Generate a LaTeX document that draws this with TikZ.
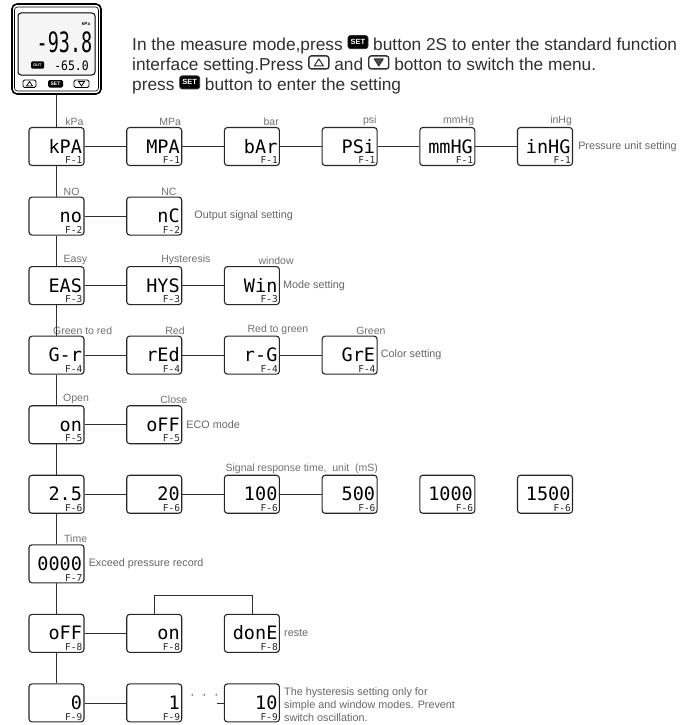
\documentclass[tikz,border=0pt]{standalone}
\usepackage{fontspec}
\setmainfont{Liberation Sans}
\newfontfamily\lcdfont{DejaVu Sans Mono}
\usetikzlibrary{positioning}
\definecolor{boxline}{HTML}{262626}
\definecolor{labelgray}{HTML}{707070}
\definecolor{notegray}{HTML}{666666}
\definecolor{textdark}{HTML}{303030}
\tikzset{
        % LCD screens of the menu
        lcd_box/.style={draw=boxline, line width=1.1pt, rounded corners=3pt, fill=white,
            minimum width=55pt, minimum height=38pt, text width=51pt, align=right,
            inner xsep=2pt, inner ysep=0pt, text height=13pt, text depth=0pt,
            font=\lcdfont\fontsize{18.5}{18.5}\selectfont},
        % Function code in the corner of a screen
        code_text/.style={font=\lcdfont\fontsize{9.5}{9.5}\selectfont, inner sep=2pt, text=boxline},
        fcode/.style={label={[code_text, anchor=south east]south east:F-#1}},
        % Names of the options above the screens
        opt_label/.style={font=\fontsize{10.5}{11}\selectfont, text=labelgray, inner sep=1pt},
        unit_above/.style={label={[opt_label, anchor=south east]north east:#1}},
        opt_above/.style 2 args={label={[opt_label, anchor=south west, xshift=#2]north:#1}},
        % Notes beside the rows
        row_note/.style={font=\fontsize{10.8}{13}\selectfont, text=notegray, anchor=west, align=left, inner sep=0pt},
        link/.style={draw=textdark, line width=0.8pt}
}
\newcommand{\btnset}{\tikz[baseline=-2pt]{\draw[fill=black, line width=0.8pt, rounded corners=2.5pt] (0pt,0pt) rectangle (20pt,13pt);
    \node[anchor=center, text=white, font=\bfseries\fontsize{7.5}{7.5}\selectfont, inner sep=0pt] at (10pt,6.5pt) {SET};}}
\newcommand{\btnup}{\tikz[baseline=-2pt]{\draw[line width=1.4pt, rounded corners=2.5pt] (0pt,0pt) rectangle (20pt,13pt);
    \draw[line width=1pt, fill=white, line join=round] (5.5pt,3pt) -- (14.5pt,3pt) -- (10pt,10pt) -- cycle;}}
\newcommand{\btndown}{\tikz[baseline=-2pt]{\draw[line width=1.4pt, rounded corners=2.5pt] (0pt,0pt) rectangle (20pt,13pt);
    \draw[line width=1pt, fill=black!70, line join=round] (5.5pt,10pt) -- (14.5pt,10pt) -- (10pt,3pt) -- cycle;}}

\begin{document}
\begin{tikzpicture}[x=1pt, y=1pt, node distance=30.45pt and 41.6pt]
    \useasboundingbox (0,0) rectangle (689,-725);

    % Controller front
    \node[draw=black, line width=1.6pt, rounded corners=5pt, minimum width=89pt, minimum height=90pt, inner sep=0pt] (device) at (56.5,-49) {};
    \draw[line width=0.6pt, rounded corners=3pt] (14.5,-7) rectangle (98.5,-91);
    \node[draw=black, line width=1pt, rounded corners=3pt, fill=black!4, minimum width=77pt, minimum height=62pt, inner sep=0pt] (screen) at (56.5,-44) {};
    \node[font=\bfseries\fontsize{4.5}{5}\selectfont, inner sep=0pt] (unit_mark) at (86,-24) {kPa};
    \node[font=\lcdfont\fontsize{28}{28}\selectfont, xscale=0.66, transform shape, inner sep=0pt] (big_value) at (64.5,-42) {-93.8};
    \node[fill=black, rounded corners=1pt, text=white, font=\bfseries\fontsize{3.8}{4}\selectfont, minimum width=13pt, minimum height=7pt, inner sep=0pt] (out_mark) at (37.5,-65) {OUT};
    \node[font=\lcdfont\fontsize{13}{13}\selectfont, xscale=0.88, transform shape, inner sep=0pt] (small_value) at (71.5,-66) {-65.0};
    % keys
    \draw[line width=0.9pt, rounded corners=1.5pt] (23,-80) rectangle (36,-87.5);
    \draw[line width=0.7pt] (26.5,-86) -- (32.5,-86) -- (29.5,-81.5) -- cycle;
    \node[fill=black, rounded corners=1.5pt, text=white, font=\bfseries\fontsize{5}{5}\selectfont, minimum width=15pt, minimum height=7.5pt, inner sep=0pt] (set_key) at (55.5,-83.75) {SET};
    \draw[line width=0.9pt, rounded corners=1.5pt] (74,-80) rectangle (89,-87.5);
    \draw[line width=0.7pt] (78.5,-81.5) -- (84.5,-81.5) -- (81.5,-86) -- cycle;

    \node[anchor=north west, align=left, inner sep=0pt, text=textdark, font=\fontsize{17.3}{17}\selectfont] (intro) at (132,-35)
        {In the measure mode,press \btnset\ button 2S to enter the standard function\\
         interface setting.Press \btnup\ and \btndown\ botton to switch the menu.\\
         press \btnset\ button to enter the setting};

    % F-1 pressure unit
    \node[lcd_box, fcode=1, unit_above=kPa] (kpa) at (56.5,-146.5) {kPA};
    \node[lcd_box, fcode=1, unit_above=MPa, right=of kpa] (mpa) {MPA};
    \node[lcd_box, fcode=1, unit_above=bar, right=of mpa] (bar) {bAr};
    \node[lcd_box, fcode=1, unit_above=psi, right=of bar] (psi) {PSi};
    \node[lcd_box, fcode=1, unit_above=mmHg, right=of psi] (mmhg) {mmHG};
    \node[lcd_box, fcode=1, unit_above=inHg, right=of mmhg] (inhg) {inHG};
    \node[row_note, right=5pt of inhg] (note_unit) {Pressure unit setting};

    % F-2 output
    \node[lcd_box, fcode=2, opt_above={NO}{6pt}, below=of kpa] (out_no) {no};
    \node[lcd_box, fcode=2, opt_above={NC}{6pt}, right=of out_no] (out_nc) {nC};
    \node[row_note, right=12pt of out_nc] (note_out) {Output signal setting};

    % F-3 mode
    \node[lcd_box, fcode=3, opt_above={Easy}{6pt}, below=of out_no] (mode_eas) {EAS};
    \node[lcd_box, fcode=3, opt_above={Hysteresis}{6pt}, right=of mode_eas] (mode_hys) {HYS};
    \node[lcd_box, fcode=3, opt_above={window}{5.5pt}, right=of mode_hys] (mode_win) {Win};
    \node[row_note, right=3pt of mode_win] (note_mode) {Mode setting};

    % F-4 colour
    \node[lcd_box, fcode=4, opt_above={Green to red}{-4.5pt}, below=of mode_eas] (col_gr) {G-r};
    \node[lcd_box, fcode=4, opt_above={Red}{10pt}, right=of col_gr] (col_red) {rEd};
    \node[lcd_box, fcode=4, opt_above={Red to green}{-5.5pt}, right=of col_red] (col_rg) {r-G};
    \node[lcd_box, fcode=4, opt_above={Green}{5.5pt}, right=of col_rg] (col_gre) {GrE};
    \node[row_note, right=3pt of col_gre] (note_col) {Color setting};

    % F-5 eco
    \node[lcd_box, fcode=5, opt_above={Open}{5.5pt}, below=of col_gr] (eco_on) {on};
    \node[lcd_box, fcode=5, opt_above={Close}{5pt}, right=of eco_on] (eco_off) {oFF};
    \node[row_note, right=4pt of eco_off] (note_eco) {ECO mode};

    % F-6 response time
    \node[lcd_box, fcode=6, below=of eco_on] (resp_a) {2.5};
    \node[lcd_box, fcode=6, right=of resp_a] (resp_b) {20};
    \node[lcd_box, fcode=6, opt_above={Signal response time,\ \ unit\ \ (mS)}{-27.5pt}, right=of resp_b] (resp_c) {100};
    \node[lcd_box, fcode=6, right=of resp_c] (resp_d) {500};
    \node[lcd_box, fcode=6, right=of resp_d] (resp_e) {1000};
    \node[lcd_box, fcode=6, right=of resp_e] (resp_f) {1500};

    % F-7 record
    \node[lcd_box, fcode=7, opt_above={Time}{6.5pt}, below=of resp_a] (rec) {0000};
    \node[row_note, right=4pt of rec] (note_rec) {Exceed pressure record};

    % F-8 reset
    \node[lcd_box, fcode=8, below=of rec] (clr_off) {oFF};
    \node[lcd_box, fcode=8, right=of clr_off] (clr_on) {on};
    \node[lcd_box, fcode=8, right=of clr_on] (clr_done) {donE};
    \node[row_note, right=4pt of clr_done] (note_clr) {reste};

    % F-9 hysteresis
    \node[lcd_box, fcode=9, below=of clr_off] (hys_a) {0};
    \node[lcd_box, fcode=9, right=of hys_a] (hys_b) {1};
    \node[lcd_box, fcode=9, right=of hys_b] (hys_c) {10};
    \node[row_note, right=4pt of hys_c, yshift=-2pt] (note_hys) {The hysteresis setting only for\\simple and window modes. Prevent\\switch oscillation.};

    % connections
    \foreach \a/\b in {kpa/mpa, mpa/bar, bar/psi, psi/mmhg, mmhg/inhg, out_no/out_nc,
                       mode_eas/mode_hys, mode_hys/mode_win, col_gr/col_red, col_red/col_rg, col_rg/col_gre,
                       eco_on/eco_off, resp_a/resp_b, resp_b/resp_c, resp_c/resp_d, clr_off/clr_on, hys_a/hys_b}
        \draw[link] (\a) -- (\b);
    \foreach \a/\b in {device/kpa, kpa/out_no, out_no/mode_eas, mode_eas/col_gr, col_gr/eco_on,
                       eco_on/resp_a, resp_a/rec, rec/clr_off, clr_off/hys_a}
        \draw[link] (\a) -- (\b);
    \draw[link] (clr_on.north) -- ++(0,18) -| (clr_done.north);
    \foreach \dx in {10,22,34}
        \fill[labelgray] ([shift={(\dx,8)}]hys_b.east) circle (1);
    \coordinate (hys_stub) at ([xshift=-7pt]hys_c.west);
    \draw[link] (hys_stub) -- (hys_c);
\end{tikzpicture}
\end{document}
